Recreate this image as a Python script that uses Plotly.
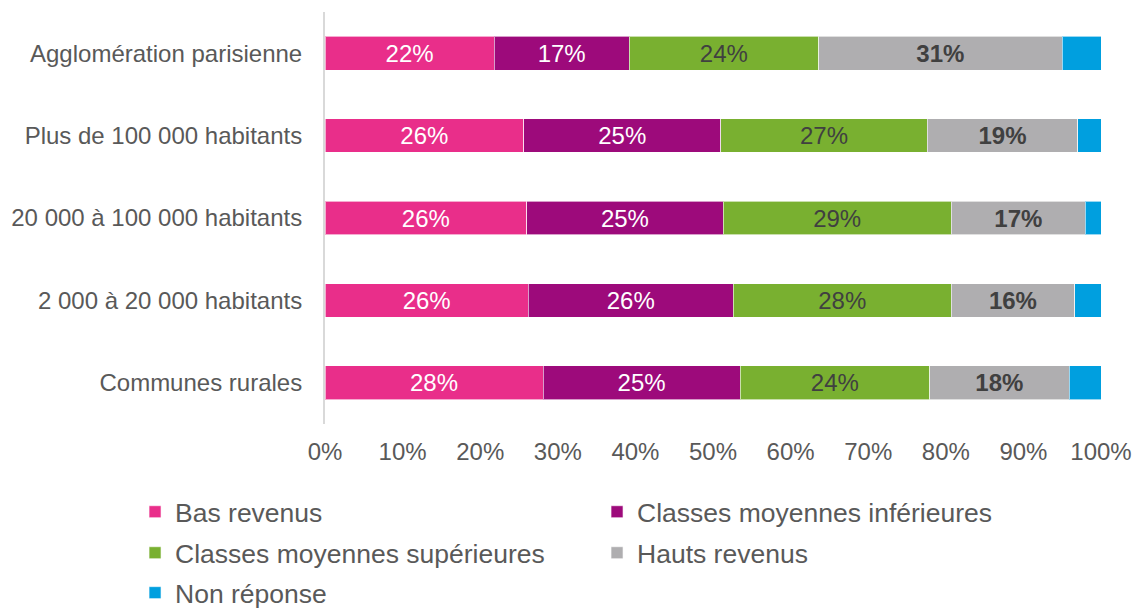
import plotly.graph_objects as go

categories = ["Agglomération parisienne", "Plus de 100 000 habitants",
              "20 000 à 100 000 habitants", "2 000 à 20 000 habitants",
              "Communes rurales"]
series_names = ["Bas revenus", "Classes moyennes inférieures",
                "Classes moyennes supérieures", "Hauts revenus", "Non réponse"]
bas_revenus = [21.8, 25.6, 26.0, 26.2, 28.1]
classes_inf = [17.4, 25.4, 25.3, 26.4, 25.4]
classes_sup = [24.4, 26.6, 29.4, 28.1, 24.4]
hauts_revenus = [31.4, 19.4, 17.3, 15.9, 18.0]
non_reponse = [5.0, 3.0, 2.0, 3.4, 4.1]
tick_vals = [0, 10, 20, 30, 40, 50, 60, 70, 80, 90, 100]
tick_text = ["0%", "10%", "20%", "30%", "40%", "50%", "60%", "70%", "80%", "90%", "100%"]

values = [bas_revenus, classes_inf, classes_sup, hauts_revenus, non_reponse]
colors = ["#E92E8A", "#9D0A7B", "#79B030", "#AFAEB0", "#009FDF"]
text_colors = ["#FFFFFF", "#FFFFFF", "#404040", "#404040", "#404040"]
templates = ["%{x:.0f}%", "%{x:.0f}%", "%{x:.0f}%", "<b>%{x:.0f}%</b>", ""]
legend_ids = ["legend", "legend", "legend2", "legend2", "legend3"]

FONT = "Liberation Sans, Arial, sans-serif"

fig = go.Figure()
for name, vals, col, tcol, tpl, lg in zip(series_names, values, colors,
                                          text_colors, templates, legend_ids):
    fig.add_trace(go.Bar(
        y=categories, x=vals, name=name, orientation="h",
        marker=dict(color=col, line=dict(color="rgba(255,255,255,0.6)", width=1)),
        texttemplate=tpl if tpl else None,
        textposition="inside" if tpl else "none",
        insidetextanchor="middle",
        textfont=dict(color=tcol, size=24, family=FONT),
        width=0.41,
        legend=lg,
        hoverinfo="skip",
    ))

legend_common = dict(orientation="h", font=dict(size=26.5, color="#595959", family=FONT),
                     entrywidth=417, entrywidthmode="pixels", xanchor="left",
                     yanchor="middle", bgcolor="rgba(0,0,0,0)", itemclick=False,
                     traceorder="normal")

fig.update_layout(
    width=1134, height=608,
    barmode="stack",
    plot_bgcolor="white", paper_bgcolor="white",
    margin=dict(l=325, r=33, t=12, b=184, autoexpand=False),
    font=dict(family=FONT, color="#595959"),
    xaxis=dict(range=[0, 100], tickvals=tick_vals, ticktext=tick_text,
               showgrid=False, zeroline=False, showline=False,
               tickfont=dict(size=24, color="#595959"), ticks="",
               ticklabelstandoff=11, automargin=False),
    yaxis=dict(autorange="reversed", showgrid=False, zeroline=False,
               showline=True, linecolor="#D9D9D9", linewidth=2,
               tickfont=dict(size=24, color="#595959"), ticks="",
               ticklabelstandoff=16, automargin=False),
    legend=dict(x=-0.2448, y=-0.2136, **legend_common),
    legend2=dict(x=-0.2448, y=-0.3131, **legend_common),
    legend3=dict(x=-0.2448, y=-0.41, **legend_common),
)

fig.write_html("out.html",
               config={"displayModeBar": False},
               post_script="document.body.style.margin='0';document.body.style.overflow='hidden';")
